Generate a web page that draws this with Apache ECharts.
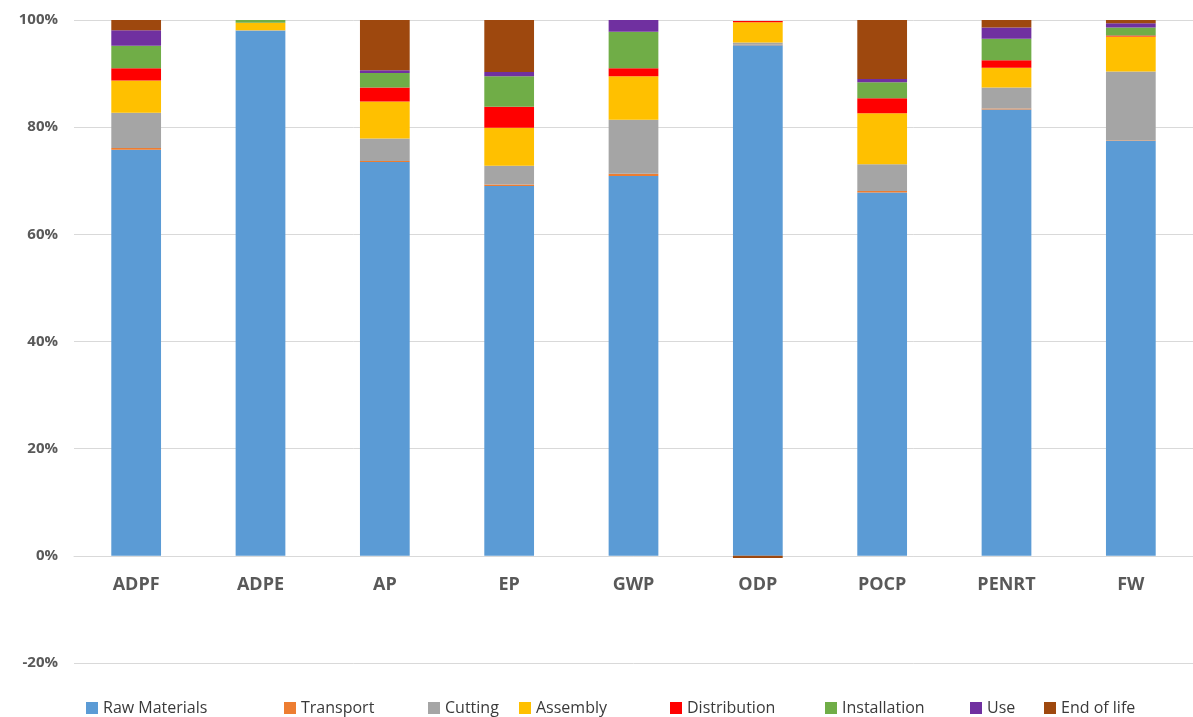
<!DOCTYPE html>
<html>
<head>
<meta charset="utf-8">
<title>Life-cycle stage contribution by impact category</title>
<script src="https://cdn.jsdelivr.net/npm/echarts@6/dist/echarts.min.js"></script>
<style>
  html, body { margin: 0; padding: 0; background: #ffffff; }
  #chart { width: 1193px; height: 717px; }
</style>
</head>
<body>
<div id="chart"></div>
<script>
// Impact categories along the horizontal axis
const categories = ['ADPF', 'ADPE', 'AP', 'EP', 'GWP', 'ODP', 'POCP', 'PENRT', 'FW'];

// Share of each life-cycle stage per impact category (%)
const rawMaterials = [75.8, 98.0, 73.5, 69.0, 70.9, 95.3, 67.8, 83.3, 77.4];
const transport    = [0.3, 0.0, 0.2, 0.3, 0.4, 0.1, 0.3, 0.2, 0.1];
const cutting      = [6.6, 0.1, 4.2, 3.5, 10.1, 0.4, 5.0, 3.9, 12.9];
const assembly     = [6.0, 1.4, 6.9, 7.1, 8.1, 3.8, 9.5, 3.7, 6.5];
const distribution = [2.3, 0.0, 2.6, 3.9, 1.5, 0.2, 2.8, 1.4, 0.2];
const installation = [4.2, 0.5, 2.7, 5.7, 6.8, 0.0, 3.0, 4.0, 1.5];
const use          = [2.9, 0.0, 0.5, 0.8, 2.2, 0.0, 0.6, 2.1, 0.8];
const endOfLife    = [1.9, 0.0, 9.4, 9.7, 0.0, -0.4, 11.0, 1.4, 0.6];

// Value-axis range and step (%)
const yMin = -20;
const yMax = 100;
const yStep = 20;

const stageNames = ['Raw Materials', 'Transport', 'Cutting', 'Assembly',
                    'Distribution', 'Installation', 'Use', 'End of life'];
const stageValues = [rawMaterials, transport, cutting, assembly,
                     distribution, installation, use, endOfLife];
const stageColors = ['#5B9BD5', '#ED7D31', '#A5A5A5', '#FFC000',
                     '#FF0000', '#70AD47', '#7030A0', '#9E480E'];

// Horizontal position of each legend entry
const legendLeft = [81, 279, 423, 514, 665, 820, 965, 1039];

// Plot area geometry
const gridTop = 20;
const gridHeight = 643;
// Category axis sits on the 0% line: shift it up from the bottom edge
const zeroShift = -gridHeight * (0 - yMin) / (yMax - yMin);

const series = stageNames.map((name, i) => ({
  name: name,
  type: 'bar',
  stack: 'total',
  barCategoryGap: '60%',
  itemStyle: { color: stageColors[i] },
  emphasis: { disabled: true },
  data: stageValues[i]
}));

const legends = stageNames.map((name, i) => ({
  data: [name],
  left: legendLeft[i],
  top: 695,
  icon: 'rect',
  itemWidth: 12,
  itemHeight: 12,
  itemGap: 5,
  selectedMode: false,
  textStyle: {
    fontFamily: 'Open Sans',
    fontSize: 16,
    color: '#3a3a3a'
  }
}));

const chart = echarts.init(document.getElementById('chart'), null, { renderer: 'canvas' });
chart.setOption({
  animation: false,
  backgroundColor: '#ffffff',
  grid: { left: 74, top: gridTop, width: 1139, height: gridHeight, containLabel: false },
  legend: legends,
  xAxis: {
    type: 'category',
    data: categories,
    offset: zeroShift,
    axisLine: { show: true, onZero: false, lineStyle: { color: '#D9D9D9', width: 1 } },
    axisTick: { show: false },
    axisLabel: {
      margin: 20,
      fontFamily: 'Open Sans',
      fontWeight: 'bold',
      fontSize: 18,
      color: '#595959'
    }
  },
  yAxis: {
    type: 'value',
    min: yMin,
    max: yMax,
    interval: yStep,
    axisLine: { show: false },
    axisTick: { show: false },
    splitLine: { lineStyle: { color: '#D9D9D9', width: 1 } },
    axisLabel: {
      margin: 16,
      formatter: '{value}%',
      fontFamily: 'Open Sans',
      fontWeight: 'bold',
      fontSize: 15,
      color: '#595959'
    }
  },
  series: series
});
</script>
</body>
</html>
